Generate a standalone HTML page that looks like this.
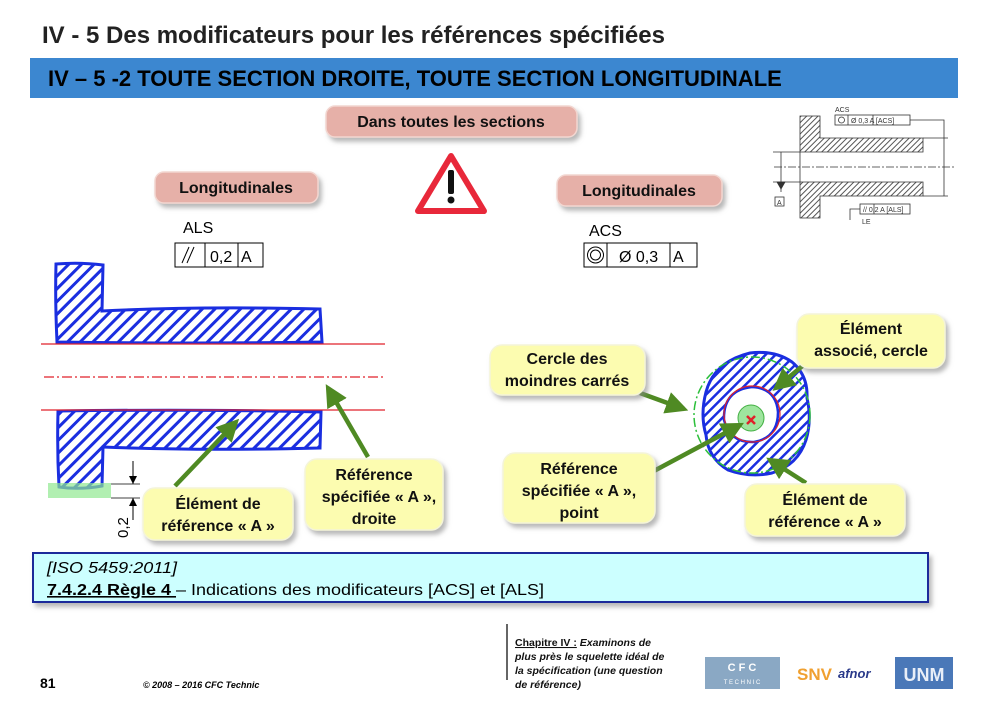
<!DOCTYPE html>
<html><head><meta charset="utf-8"><style>
html,body{margin:0;padding:0;background:#fff;}
svg{display:block;font-family:"Liberation Sans",Arial,sans-serif;}
</style></head><body>
<svg width="986" height="704" viewBox="0 0 986 704" xmlns="http://www.w3.org/2000/svg">
<defs>
<pattern id="h" patternUnits="userSpaceOnUse" width="9" height="9" patternTransform="rotate(45)">
<rect width="9" height="9" fill="#fff"/><rect width="3" height="9" fill="#1a2ee0"/></pattern>
<pattern id="h2" patternUnits="userSpaceOnUse" width="7" height="7" patternTransform="rotate(45)">
<rect width="7" height="7" fill="#fff"/><rect width="2.5" height="7" fill="#1a2ee0"/></pattern>
<pattern id="hs" patternUnits="userSpaceOnUse" width="4" height="4" patternTransform="rotate(45)">
<rect width="4" height="4" fill="#fff"/><rect width="1" height="4" fill="#555"/></pattern>
<filter id="sh" x="-10%" y="-10%" width="130%" height="140%"><feDropShadow dx="3" dy="4" stdDeviation="2.5" flood-color="#888" flood-opacity="0.6"/></filter>
<marker id="ga" markerWidth="5" markerHeight="5" refX="4" refY="2.5" orient="auto" markerUnits="strokeWidth"><path d="M0,0 L5,2.5 L0,5z" fill="#4f8a23"/></marker>
</defs>

<text x="42" y="43" font-size="24" font-weight="bold" fill="#222">IV - 5 Des modificateurs pour les références spécifiées</text>
<rect x="30" y="58" width="928" height="40" fill="#3c87d0"/>
<text x="48" y="86" font-size="22" font-weight="bold" fill="#000">IV – 5 -2 TOUTE SECTION DROITE, TOUTE SECTION LONGITUDINALE</text>

<g filter="url(#sh)" fill="#e6b0a8" stroke="#f2d6d0" stroke-width="1.5">
<rect x="326" y="106" width="251" height="31" rx="9"/>
<rect x="155" y="172" width="163" height="31" rx="9"/>
<rect x="557" y="175" width="165" height="31" rx="9"/>
</g>
<g font-size="16" font-weight="bold" text-anchor="middle" fill="#111">
<text x="451" y="127">Dans toutes les sections</text>
<text x="236" y="193">Longitudinales</text>
<text x="639" y="196">Longitudinales</text>
</g>

<path d="M451,156 L484,211 L418,211 Z" fill="#fff" stroke="#e8283a" stroke-width="6" stroke-linejoin="round"/>
<rect x="448" y="170" width="6" height="24" rx="2" fill="#111"/>
<circle cx="451" cy="200" r="3.5" fill="#111"/>

<text x="183" y="233" font-size="16">ALS</text>
<rect x="175" y="243" width="88" height="24" fill="#fff" stroke="#000"/>
<line x1="205" y1="243" x2="205" y2="267" stroke="#000"/><line x1="238" y1="243" x2="238" y2="267" stroke="#000"/>
<line x1="182" y1="263" x2="189" y2="247" stroke="#000"/><line x1="187" y1="263" x2="194" y2="247" stroke="#000"/>
<text x="210" y="262" font-size="16">0,2</text><text x="241" y="262" font-size="16">A</text>
<text x="589" y="236" font-size="16">ACS</text>
<rect x="584" y="243" width="113" height="24" fill="#fff" stroke="#000"/>
<line x1="607" y1="243" x2="607" y2="267" stroke="#000"/><line x1="670" y1="243" x2="670" y2="267" stroke="#000"/>
<circle cx="595.5" cy="255" r="8" fill="none" stroke="#000"/><circle cx="595.5" cy="255" r="5" fill="none" stroke="#000"/>
<text x="619" y="262" font-size="16">Ø 0,3</text><text x="673" y="262" font-size="16">A</text>

<g stroke="#333" stroke-width="0.8" font-size="7" fill="#333">
<path d="M800,116 L820,116 L820,138 L923,138 L923,152 L800,152Z M800,182 L923,182 L923,196 L820,196 L820,218 L800,218Z" fill="url(#hs)"/>
<line x1="800" y1="152" x2="800" y2="182"/>
<line x1="774" y1="167" x2="955" y2="167" stroke-dasharray="8,2,2,2"/>
<line x1="773" y1="152" x2="800" y2="152"/><line x1="773" y1="182" x2="800" y2="182"/>
<line x1="781" y1="152" x2="781" y2="192"/><path d="M777,182 L785,182 L781,189Z" fill="#333"/>
<rect x="775" y="197" width="9" height="9" fill="#fff"/><text x="777" y="205" stroke="none">A</text>
<line x1="923" y1="138" x2="948" y2="138"/><line x1="923" y1="196" x2="948" y2="196"/>
<line x1="944" y1="131" x2="944" y2="196"/>
<text x="835" y="112" stroke="none">ACS</text>
<rect x="835" y="115" width="75" height="10" fill="#fff"/>
<line x1="848" y1="115" x2="848" y2="125"/><line x1="873" y1="115" x2="873" y2="125"/>
<circle cx="841.5" cy="120" r="3" fill="none"/>
<text x="851" y="123" stroke="none">Ø 0,3  A  [ACS]</text>
<polyline points="910,120 944,120 944,131" fill="none"/>
<rect x="860" y="204" width="50" height="10" fill="#fff"/>
<line x1="874" y1="204" x2="874" y2="214"/>
<text x="863" y="212" stroke="none">//  0,2  A  [ALS]</text>
<polyline points="860,209 850,209 850,220" fill="none"/>
<text x="862" y="224" stroke="none">LE</text>
</g>

<path d="M56,264 Q80,262 103,265 L102,311 Q200,306 320,309 L322,342 Q200,344 57,342 Q55,300 56,264Z" fill="url(#h)" stroke="#1a2ee0" stroke-width="3"/>
<path d="M58,411 Q200,409 321,412 L320,448 Q200,451 103,447 L102,486 Q80,490 59,487 Q57,450 58,411Z" fill="url(#h)" stroke="#1a2ee0" stroke-width="3"/>
<line x1="41" y1="344" x2="385" y2="344" stroke="#e0202a" stroke-width="1.2"/>
<line x1="41" y1="410" x2="385" y2="410" stroke="#e0202a" stroke-width="1.2"/>
<line x1="44" y1="377" x2="385" y2="377" stroke="#e0202a" stroke-width="1.2" stroke-dasharray="10,3,2,3"/>
<rect x="48" y="483" width="63" height="15" fill="#90e890" fill-opacity="0.7"/>
<line x1="111" y1="484" x2="140" y2="484" stroke="#000" stroke-width="0.8"/>
<line x1="111" y1="498" x2="140" y2="498" stroke="#000" stroke-width="0.8"/>
<line x1="133" y1="461" x2="133" y2="484" stroke="#000"/><path d="M129,476 L137,476 L133,484Z"/>
<line x1="133" y1="498" x2="133" y2="520" stroke="#000"/><path d="M129,506 L137,506 L133,498Z"/>
<text transform="translate(128,538) rotate(-90)" font-size="15">0,2</text>

<!-- right circle drawing -->
<path d="M750,353 Q775,350 792,362 Q808,375 807,398 Q812,420 806,440 Q798,465 772,473 Q750,478 728,470 Q708,458 706,435 Q700,415 706,392 Q714,362 750,353Z" fill="url(#h2)" stroke="#1a2ee0" stroke-width="3"/>
<path d="M752,387 Q776,388 778,412 Q778,438 754,442 Q730,443 724,420 Q723,390 752,387Z" fill="#fff" stroke="#1a2ee0" stroke-width="2.5"/>
<circle cx="752" cy="414" r="28" fill="none" stroke="#e0202a" stroke-width="1.2"/>
<circle cx="751" cy="418" r="13" fill="#9ee59e" stroke="#44b044"/>
<circle cx="752" cy="415" r="58" fill="none" stroke="#2bbf3a" stroke-width="1.5" stroke-dasharray="9,3,2,3"/>
<path d="M747,416 L755,424 M755,416 L747,424" stroke="#e0202a" stroke-width="2.5"/>

<g stroke="#4f8a23" stroke-width="4.5" fill="none" marker-end="url(#ga)">
<line x1="175" y1="486" x2="236" y2="422"/>
<line x1="368" y1="457" x2="328" y2="388"/>
<line x1="640" y1="393" x2="684" y2="409"/>
<line x1="806" y1="363" x2="776" y2="388"/>
<line x1="652" y1="472" x2="740" y2="425"/>
<line x1="806" y1="483" x2="770" y2="460"/>
</g>

<g filter="url(#sh)" fill="#fcfcb0" stroke="#f4f4d8" stroke-width="1.5">
<rect x="143" y="488" width="150" height="52" rx="12"/>
<rect x="305" y="459" width="138" height="71" rx="12"/>
<rect x="490" y="345" width="155" height="50" rx="12"/>
<rect x="797" y="314" width="148" height="54" rx="12"/>
<rect x="503" y="453" width="152" height="70" rx="12"/>
<rect x="745" y="484" width="160" height="52" rx="12"/>
</g>
<g font-size="16" font-weight="bold" text-anchor="middle" fill="#111">
<text x="218" y="509">Élément de</text><text x="218" y="531">référence « A »</text>
<text x="374" y="480">Référence</text><text x="379" y="502">spécifiée « A »,</text><text x="374" y="524">droite</text>
<text x="567" y="364">Cercle des</text><text x="567" y="386">moindres carrés</text>
<text x="871" y="334">Élément</text><text x="871" y="356">associé, cercle</text>
<text x="579" y="474">Référence</text><text x="579" y="496">spécifiée « A »,</text><text x="579" y="518">point</text>
<text x="825" y="505">Élément de</text><text x="825" y="527">référence « A »</text>
</g>

<rect x="33" y="553" width="895" height="49" fill="#ccffff" stroke="#1a2a9a" stroke-width="2" filter="url(#sh)"/>
<text x="47" y="573" font-size="16" font-style="italic" textLength="130" lengthAdjust="spacingAndGlyphs">[ISO 5459:2011]</text>
<text x="47" y="595" font-size="16" textLength="497" lengthAdjust="spacingAndGlyphs"><tspan font-weight="bold" text-decoration="underline">7.4.2.4 Règle 4 </tspan>– Indications des modificateurs [ACS] et [ALS]</text>

<text x="40" y="688" font-size="14" font-weight="bold">81</text>
<text x="143" y="688" font-size="9" font-weight="bold" font-style="italic">© 2008 – 2016 CFC Technic</text>
<line x1="507" y1="624" x2="507" y2="680" stroke="#333" stroke-width="1.5"/>
<g font-size="10.5" font-weight="bold" font-style="italic" fill="#111">
<text x="515" y="646"><tspan font-style="normal" text-decoration="underline">Chapitre IV :</tspan> Examinons de</text>
<text x="515" y="660">plus près le squelette idéal de</text>
<text x="515" y="674">la spécification (une question</text>
<text x="515" y="688">de référence)</text>
</g>
<rect x="705" y="657" width="75" height="32" fill="#8aa8c4"/>
<text x="742" y="671" font-size="11" font-weight="bold" fill="#fff" text-anchor="middle">C F C</text>
<text x="742" y="684" font-size="6" fill="#fff" text-anchor="middle">T E C H N I C</text>
<text x="797" y="680" font-size="17" font-weight="bold" fill="#f0a030">SNV</text>
<text x="838" y="678" font-size="13" font-weight="bold" fill="#2a3a8a" font-style="italic">afnor</text>
<rect x="895" y="657" width="58" height="32" fill="#4a78b8"/>
<text x="924" y="681" font-size="18" font-weight="bold" fill="#e8eef8" text-anchor="middle">UNM</text>
</svg>
</body></html>
